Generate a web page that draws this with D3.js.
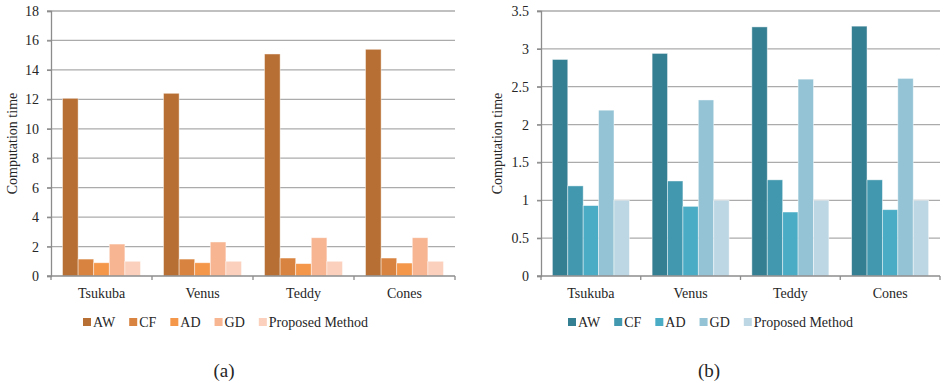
<!DOCTYPE html>
<html>
<head>
<meta charset="utf-8">
<script src="https://cdn.jsdelivr.net/npm/d3@7"></script>
<style>
  html, body { margin: 0; padding: 0; background: #fff; font-family: 'Liberation Serif', serif; }
  svg { display: block; }
</style>
</head>
<body>
<svg id="chart" width="947" height="383"></svg>
<script>
// ---- data ----
const categories = ["Tsukuba", "Venus", "Teddy", "Cones"];
const seriesNames = ["AW", "CF", "AD", "GD", "Proposed Method"];

// panel (a)
const aAW = [12.07, 12.41, 15.08, 15.40];
const aCF = [1.15, 1.15, 1.22, 1.22];
const aAD = [0.90, 0.90, 0.84, 0.88];
const aGD = [2.17, 2.31, 2.60, 2.60];
const aPM = [1.00, 1.00, 1.00, 1.00];
const aTicks = [0, 2, 4, 6, 8, 10, 12, 14, 16, 18];

// panel (b)
const bAW = [2.86, 2.94, 3.29, 3.30];
const bCF = [1.19, 1.255, 1.27, 1.27];
const bAD = [0.93, 0.92, 0.845, 0.876];
const bGD = [2.19, 2.325, 2.60, 2.61];
const bPM = [1.00, 1.00, 1.00, 1.00];
const bTicks = [0, 0.5, 1, 1.5, 2, 2.5, 3, 3.5];

const orangeColors = ["#B86F33", "#D8833F", "#F5974B", "#F8B592", "#FBD0BC"];
const blueColors = ["#357F93", "#4298AF", "#4BACC6", "#93C3D5", "#BDD8E4"];

const FONT = "Liberation Serif, serif";
const svg = d3.select("#chart").attr("font-family", FONT);

function txt(sel, size) {
  return sel.attr("font-family", FONT).attr("font-size", size).attr("fill", "#262626");
}

function drawPanel(cfg) {
  const g = svg.append("g").attr("font-family", FONT);
  const y = d3.scaleLinear().domain([0, cfg.yMax]).range([cfg.bottom, cfg.top]);
  const x = d3.scaleBand().domain(categories).range([cfg.left, cfg.right])
    .paddingInner(0.228).paddingOuter(0.114);
  const xs = d3.scaleBand().domain(seriesNames).range([0, x.bandwidth()]);

  // gridlines
  g.append("g").selectAll("line").data(cfg.ticks.filter(t => t > 0)).join("line")
    .attr("x1", cfg.left - 4).attr("x2", cfg.right)
    .attr("y1", d => y(d)).attr("y2", d => y(d))
    .attr("stroke", "#ABABAB").attr("stroke-width", 1.3);

  // y axis
  const yAxis = d3.axisLeft(y).tickValues(cfg.ticks).tickSize(4).tickPadding(8)
    .tickFormat(d => String(d));
  const ya = g.append("g").attr("transform", `translate(${cfg.left},0)`).call(yAxis);
  ya.attr("font-family", FONT).attr("font-size", 14);
  ya.select(".domain").attr("stroke", "#8C8C8C").attr("stroke-width", 1.3);
  ya.selectAll(".tick line").attr("stroke", "#8C8C8C").attr("stroke-width", 1.3);
  txt(ya.selectAll(".tick text"), 14);

  // bars
  const series = cfg.values.map((vals, i) => ({ name: seriesNames[i], vals, color: cfg.colors[i] }));
  series.forEach(s => {
    g.append("g").selectAll("rect").data(categories.map((c, j) => ({ c, v: s.vals[j] }))).join("rect")
      .attr("x", d => x(d.c) + xs(s.name))
      .attr("width", xs.bandwidth())
      .attr("y", d => y(d.v))
      .attr("height", d => y(0) - y(d.v))
      .attr("fill", s.color)
      .attr("stroke", "#ffffff").attr("stroke-opacity", 0.55).attr("stroke-width", 0.8);
  });

  // x axis
  const xa = g.append("g").attr("transform", `translate(0,${cfg.bottom})`);
  xa.append("line").attr("x1", cfg.left - 4).attr("x2", cfg.right)
    .attr("stroke", "#8C8C8C").attr("stroke-width", 1.3);
  const bounds = categories.map(c => x(c) - x.step() * 0.114).concat([cfg.right]);
  xa.selectAll(".xt").data(bounds).join("line").attr("class", "xt")
    .attr("x1", d => d).attr("x2", d => d).attr("y1", 0).attr("y2", 4)
    .attr("stroke", "#8C8C8C").attr("stroke-width", 1.3);
  txt(xa.selectAll(".xl").data(categories).join("text").attr("class", "xl")
    .attr("x", d => x(d) + x.bandwidth() / 2).attr("y", 22)
    .attr("text-anchor", "middle"), 14).text(d => d);

  // y label
  txt(g.append("text")
    .attr("transform", `translate(${cfg.ylabelX},${(cfg.top + cfg.bottom) / 2}) rotate(-90)`)
    .attr("text-anchor", "middle"), 14).text("Computation time");

  // legend
  const lg = g.append("g").attr("transform", `translate(${cfg.legendX},${cfg.legendY})`);
  let cx = 0;
  series.forEach(s => {
    lg.append("rect").attr("x", cx).attr("y", -4).attr("width", 8).attr("height", 8).attr("fill", s.color);
    const t = txt(lg.append("text").attr("x", cx + 10).attr("y", 5), 14).text(s.name);
    cx += 10 + t.node().getComputedTextLength() + 14;
  });

  // caption
  txt(g.append("text").attr("x", cfg.captionX).attr("y", 377).attr("text-anchor", "middle"), 19)
    .text(cfg.caption);
}

drawPanel({
  left: 51, right: 455, top: 11, bottom: 276, yMax: 18, ticks: aTicks,
  values: [aAW, aCF, aAD, aGD, aPM], colors: orangeColors,
  ylabelX: 17, legendX: 83, legendY: 322, captionX: 224, caption: "(a)"
});
drawPanel({
  left: 541, right: 940, top: 11, bottom: 276, yMax: 3.5, ticks: bTicks,
  values: [bAW, bCF, bAD, bGD, bPM], colors: blueColors,
  ylabelX: 502, legendX: 568, legendY: 322, captionX: 709, caption: "(b)"
});
</script>
</body>
</html>
